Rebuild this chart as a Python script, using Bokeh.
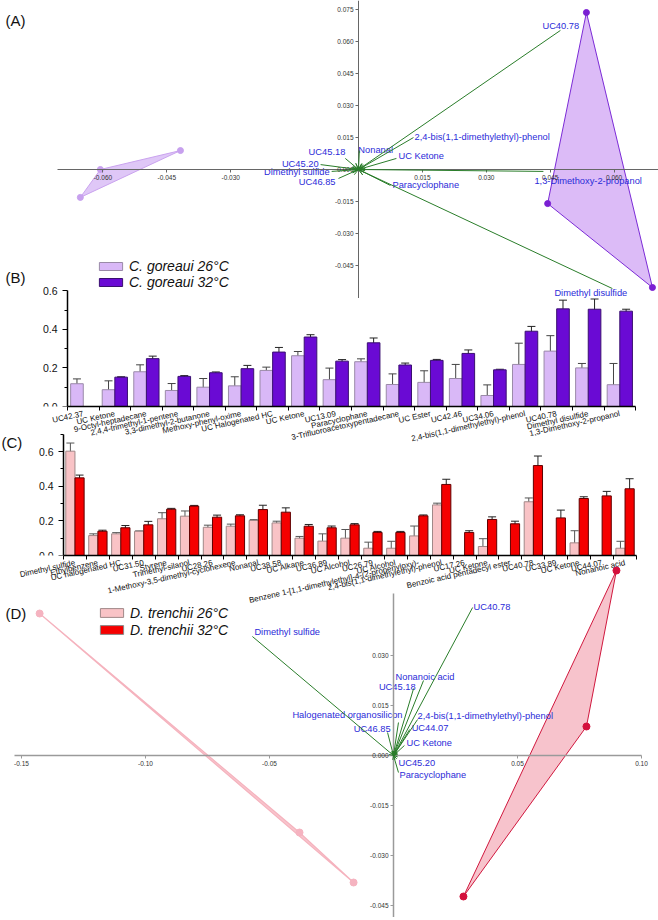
from bokeh.plotting import figure
from bokeh.layouts import column
from bokeh.models import (ColumnDataSource, FixedTicker, NumeralTickFormatter, Arrow, OpenHead,
                          Whisker, TeeHead, Legend, LegendItem, Label)
from bokeh.core.properties import value
from bokeh.embed import file_html
from bokeh.resources import INLINE

FONT = "Liberation Sans"

# ---------------- Panel A: PCA biplot, C. goreaui ----------------
a_x_ticks = [-0.060, -0.045, -0.030, 0.015, 0.030, 0.045, 0.060]
a_y_ticks = [0.075, 0.060, 0.045, 0.030, 0.015, 0.000, -0.015, -0.030, -0.045]
a_g26_x = [-0.0653, -0.0606, -0.0418]
a_g26_y = [-0.0131, 0.0000, 0.0089]
a_g32_x = [0.0535, 0.0444, 0.0690]
a_g32_y = [0.0737, -0.0160, -0.0554]
a_load_names = ["UC40.78", "2,4-bis(1,1-dimethylethyl)-phenol", "Nonanal", "UC Ketone", "UC45.18",
                "UC45.20", "Dimethyl sulfide", "UC46.85", "Paracyclophane",
                "1,3-Dimethoxy-2-propanol", "Dimethyl disulfide"]
a_load_x = [0.0474, 0.0129, 0.0002, 0.0089, -0.0031, -0.0089, -0.0063, -0.0047, 0.0075, 0.0434, 0.0596]
a_load_y = [0.0653, 0.0150, 0.0089, 0.0052, 0.0052, 0.0023, -0.0009, -0.0042, -0.0075, -0.0009, -0.0559]

# ---------------- Panel B: bar chart, C. goreaui ----------------
b_names = ["UC42.37", "UC Ketone", "9-Octyl-heptadecane", "2,4,4-trimethyl-1-pentene",
           "3,3-dimethyl-2-butanone", "Methoxy-phenyl-oxime", "UC Halogenated HC", "UC Ketone",
           "UC13.09", "Paracyclophane", "3-Trifluoroacetoxypentadecane", "UC Ester", "UC42.46",
           "UC34.06", "2,4-bis(1,1-dimethylethyl)-phenol", "UC40.78", "Dimethyl disulfide",
           "1,3-Dimethoxy-2-propanol"]
b26 = [0.118, 0.087, 0.180, 0.083, 0.100, 0.107, 0.187, 0.263, 0.139, 0.232, 0.114, 0.125,
       0.145, 0.057, 0.218, 0.287, 0.200, 0.113]
b26_err = [0.025, 0.046, 0.036, 0.036, 0.045, 0.047, 0.017, 0.022, 0.060, 0.015, 0.055, 0.060,
           0.073, 0.055, 0.110, 0.080, 0.023, 0.110]
b32 = [None, 0.152, 0.248, 0.156, 0.175, 0.196, 0.282, 0.360, 0.235, 0.330, 0.215, 0.239,
       0.275, 0.190, 0.390, 0.506, 0.504, 0.494]
b32_err = [None, 0.002, 0.013, 0.004, 0.004, 0.017, 0.024, 0.012, 0.008, 0.025, 0.010, 0.005,
           0.018, 0.003, 0.025, 0.045, 0.053, 0.010]
b_y_ticks = [0.0, 0.2, 0.4, 0.6]
b_y_minor = [0.1, 0.3, 0.5]

# ---------------- Panel C: bar chart, D. trenchii ----------------
c_names = ["Dimethyl sulfide", "Ethylbenzene", "UC halogenated HC", "UC31.50", "Styrene",
           "Trimethyl-silanol", "UC28.26", "1-Methoxy-3,5-dimethyl-cyclohexene", "Nonanal",
           "UC38.58", "UC Alkane", "UC36.89", "UC Alcohol", "UC26.79", "UC Alcohol",
           "Benzene 1-[1,1-dimethylethyl]-4-(2-propenyloxy)-",
           "2,4-bis(1,1-dimethylethyl)-phenol", "UC17.26", "UC Ketone",
           "Benzoic acid pentadecyl ester", "UC40.78", "UC33.89", "UC Ketone", "UC44.07",
           "Nonanoic acid"]
c26 = [0.602, 0.115, 0.125, 0.140, 0.212, 0.227, 0.163, 0.169, 0.202, 0.188, 0.100, 0.083,
       0.100, 0.042, 0.042, 0.113, 0.292, None, 0.052, None, 0.310, None, 0.073, None, 0.042]
c26_err = [0.047, 0.010, 0.007, 0.002, 0.035, 0.030, 0.012, 0.012, 0.005, 0.010, 0.010, 0.042,
           0.050, 0.035, 0.040, 0.057, 0.010, None, 0.045, None, 0.022, None, 0.070, None, 0.040]
c32 = [0.448, 0.140, 0.160, 0.177, 0.267, 0.285, 0.221, 0.229, 0.265, 0.250, 0.169, 0.160,
       0.177, 0.133, 0.133, 0.229, 0.410, 0.133, 0.208, 0.183, 0.519, 0.217, 0.329, 0.344, 0.385]
c32_err = [0.016, 0.006, 0.013, 0.020, 0.005, 0.004, 0.012, 0.006, 0.025, 0.025, 0.010, 0.010,
           0.007, 0.006, 0.006, 0.005, 0.030, 0.010, 0.015, 0.015, 0.055, 0.045, 0.010, 0.026, 0.058]
c_y_ticks = [0.0, 0.2, 0.4, 0.6]
c_y_minor = [0.1, 0.3, 0.5, 0.7]

# ---------------- Panel D: PCA biplot, D. trenchii ----------------
d_x_ticks = [-0.15, -0.10, -0.05, 0.05, 0.10]
d_y_ticks = [0.030, 0.015, 0.000, -0.015, -0.030, -0.045]
d_t26_x = [-0.1427, -0.0379, -0.0161]
d_t26_y = [0.0426, -0.0231, -0.0381]
d_t32_x = [0.0899, 0.0778, 0.0282]
d_t32_y = [0.0555, 0.0087, -0.0423]
d_load_names = ["Dimethyl sulfide", "Halogenated organosilicon", "UC46.85", "UC45.18",
                "Nonanoic acid", "UC40.78", "2,4-bis(1,1-dimethylethyl)-phenol", "UC44.07",
                "UC Ketone", "UC45.20", "Paracyclophane"]
d_load_x = [-0.0569, 0.0020, -0.0024, 0.0081, 0.0121, 0.0319, 0.0097, 0.0065, 0.0044, 0.0012, 0.0020]
d_load_y = [0.0357, 0.0099, 0.0069, 0.0201, 0.0225, 0.0444, 0.0108, 0.0078, 0.0030, -0.0009, -0.0051]

# ---------------- layout / style parameters ----------------
a_lab_dx = [-18, 1, -1, 2, 0, -2, -2, -3, 2, -9, -58]
a_lab_dy = [-4, -1, -1, -2, -6, -1, 1, 4, 0, 10, 4]
a_lab_align = ["left", "left", "left", "left", "right", "right", "right", "right", "left", "left", "left"]
d_lab_dx = [2, 4, 3, 2, -28, 1, 0, 2, 2, 2, 1]
d_lab_dy = [-5, -8, -4, -2, -4, -1, -4, -2, -3, 4, 2]
d_lab_align = ["left", "right", "right", "right", "left", "left", "left", "left", "left", "left", "left"]

GREEN = "#2a7d2a"
BLUE = "#2b2bd8"
PURPLE_L = "#d9b8f7"
PURPLE_D = "#6a0ad4"
PINK_L = "#f9c3c6"
RED_D = "#f50000"
ROT = 0.22
W = 658


def base_fig(h, xr, yr, **kw):
    p = figure(width=W, height=h, x_range=xr, y_range=yr, output_backend="svg",
               toolbar_location=None, min_border=0, outline_line_color=None, **kw)
    p.grid.visible = False
    return p


def center_axes(p, xt, yt, xfmt, yfmt, xb, yb, color, lw):
    xa, ya = p.xaxis[0], p.yaxis[0]
    xa.fixed_location = 0
    ya.fixed_location = 0
    xa.ticker = FixedTicker(ticks=xt)
    ya.ticker = FixedTicker(ticks=yt)
    xa.formatter = NumeralTickFormatter(format=xfmt)
    ya.formatter = NumeralTickFormatter(format=yfmt)
    xa.bounds = xb
    ya.bounds = yb
    for ax in (xa, ya):
        ax.axis_line_color = color
        ax.axis_line_width = lw
        ax.major_tick_line_color = color
        ax.major_tick_out = 3
        ax.major_tick_in = 0
        ax.minor_tick_line_color = None
        ax.major_label_text_font = FONT
        ax.major_label_text_font_size = "6.5px"
        ax.major_label_text_color = "#333333"
        ax.major_label_standoff = 2


def add_loadings(p, names, xs, ys, dxs, dys, aligns, size, head):
    n = len(names)
    src = ColumnDataSource(dict(x0=[0.0] * n, y0=[0.0] * n, x1=xs, y1=ys))
    p.add_layout(Arrow(start=OpenHead(size=head, line_color=GREEN, line_width=1), end=None,
                       x_start="x0", y_start="y0", x_end="x1", y_end="y1", source=src,
                       line_color=GREEN, line_width=1))
    for al in ("left", "right"):
        idx = [i for i in range(n) if aligns[i] == al]
        s = ColumnDataSource(dict(x=[xs[i] for i in idx], y=[ys[i] for i in idx],
                                  t=[names[i] for i in idx], dx=[dxs[i] for i in idx],
                                  dy=[dys[i] for i in idx]))
        p.text(x="x", y="y", text="t", x_offset="dx", y_offset="dy", source=s, text_align=al,
               text_baseline="middle", text_font=value(FONT), text_font_size=size,
               text_color=BLUE)


def panel_label(p, txt, x, y):
    p.add_layout(Label(x=x, y=y, x_units="screen", y_units="screen", text=txt,
                       text_font=FONT, text_font_size="15px", text_baseline="middle",
                       text_color="#111111"))


def bar_source(vals, errs, offset):
    idx = [i for i in range(len(vals)) if vals[i] is not None]
    return ColumnDataSource(dict(x=[i + offset for i in idx], top=[vals[i] for i in idx],
                                 up=[vals[i] + errs[i] for i in idx],
                                 lo=[vals[i] - errs[i] for i in idx]))


def bars(p, src, fill, line, err_color, width):
    r = p.vbar(x="x", top="top", bottom=0, width=width, source=src, fill_color=fill,
               line_color=line, line_width=1)
    p.add_layout(Whisker(base="x", upper="up", lower="lo", source=src, line_color=err_color,
                         line_width=1,
                         upper_head=TeeHead(size=8, line_color=err_color, line_width=1),
                         lower_head=TeeHead(size=8, line_color=err_color, line_width=1)))
    return r


def bar_axes(p, names, yt, ymin, ybound):
    n = len(names)
    xa, ya = p.xaxis[0], p.yaxis[0]
    xa.ticker = FixedTicker(ticks=list(range(n)), minor_ticks=[i - 0.5 for i in range(n + 1)])
    xa.major_label_overrides = {i: nm for i, nm in enumerate(names)}
    xa.major_label_orientation = ROT
    xa.major_label_text_font = FONT
    xa.major_label_text_font_size = "8px"
    xa.major_label_text_color = "#111111"
    xa.major_label_standoff = 3
    xa.major_tick_out = 0
    xa.major_tick_in = 0
    xa.minor_tick_out = 4
    xa.minor_tick_in = 0
    xa.bounds = (-0.5, n - 0.5)
    ya.fixed_location = -0.5
    ya.ticker = FixedTicker(ticks=yt, minor_ticks=ymin)
    ya.formatter = NumeralTickFormatter(format="0.0")
    ya.bounds = ybound
    ya.major_tick_out = 5
    ya.major_tick_in = 0
    ya.minor_tick_out = 3
    ya.minor_tick_in = 0
    ya.major_label_text_font = FONT
    ya.major_label_text_font_size = "10.5px"
    ya.major_label_text_color = "#111111"
    for ax in (xa, ya):
        ax.axis_line_width = 1.5
        ax.axis_line_color = "black"
        ax.major_tick_line_color = "black"
        ax.minor_tick_line_color = "black"


def legend(p, labels, renderers, loc, gh, lh):
    p.add_layout(Legend(items=[LegendItem(label=l, renderers=[r]) for l, r in zip(labels, renderers)],
                        location=loc, orientation="vertical", padding=0, spacing=0, margin=0,
                        glyph_width=29, glyph_height=gh, label_height=lh, label_standoff=4,
                        label_text_font=FONT, label_text_font_size="14px",
                        label_text_font_style="italic", label_text_color="#111111",
                        border_line_color=None, background_fill_alpha=0,
                        inactive_fill_alpha=0))


# ---------------- Panel A ----------------
pa = base_fig(298, (-0.08404, 0.07042), (-0.06056, 0.07934))
pa.patch(a_g26_x, a_g26_y, fill_color="#dcc1f6", fill_alpha=0.9, line_color="#caa3ef", line_width=1)
pa.scatter(a_g26_x, a_g26_y, size=6, color="#c7a0ee")
pa.patch(a_g32_x, a_g32_y, fill_color="#d8b4f6", fill_alpha=0.9, line_color="#7b2bd6", line_width=1)
pa.scatter(a_g32_x, a_g32_y, size=6, color="#7a1fd3")
center_axes(pa, a_x_ticks, a_y_ticks, "0.000", "0.000", (-0.0707, 0.0704), (-0.0606, 0.0793),
            "#666666", 1)
add_loadings(pa, a_load_names, a_load_x, a_load_y, a_lab_dx, a_lab_dy, a_lab_align, "9.3px", 6)
panel_label(pa, "(A)", 5, 278)

# ---------------- Panel B ----------------
b_cat_px, b_left_px = 31.56, 67
pb = base_fig(201, (-0.5 - b_left_px / b_cat_px, -0.5 + (W - b_left_px) / b_cat_px), (0, 0.7824),
              min_border_bottom=50, background_fill_alpha=0, border_fill_alpha=0)
pb.margin = (-43, 0, 0, 0)
rb26 = bars(pb, bar_source(b26, b26_err, -0.2), PURPLE_L, "#9a8aa8", "#444444", 0.4)
rb32 = bars(pb, bar_source(b32, b32_err, 0.2), PURPLE_D, "#3a1070", "#222222", 0.4)
bar_axes(pb, b_names, b_y_ticks, b_y_minor, (0, 0.6))
legend(pb, ["C. goreaui 26°C", "C. goreaui 32°C"], [rb26, rb32], (96, 116), 10, 16)
panel_label(pb, "(B)", 5, 129)

# ---------------- Panel C ----------------
c_cat_px, c_left_px = 22.92, 63
pc = base_fig(182, (-0.5 - c_left_px / c_cat_px, -0.5 + (W - c_left_px) / c_cat_px), (0, 0.704),
              min_border_bottom=60, background_fill_alpha=0, border_fill_alpha=0)
pc.margin = (-23, 0, 0, 0)
src_c26 = bar_source(c26, c26_err, -0.2)
src_c32 = bar_source(c32, c32_err, 0.2)
rc26 = bars(pc, src_c26, PINK_L, "#a08888", "#555555", 0.4)
rc32 = bars(pc, src_c32, RED_D, "#600000", "#222222", 0.4)
bar_axes(pc, c_names, c_y_ticks, c_y_minor, (0, 0.7))
panel_label(pc, "(C)", 1, 113)

# ---------------- Panel D ----------------
pd_ = base_fig(352, (-0.15847, 0.10685), (-0.0486, 0.0570), background_fill_alpha=0,
               border_fill_alpha=0)
pd_.margin = (-50, 0, 0, 0)
pd_.patch(d_t26_x, d_t26_y, fill_color="#f7bfc8", fill_alpha=0.9, line_color="#f5b3be", line_width=1.2)
pd_.scatter(d_t26_x, d_t26_y, size=7, color="#f5b3c0")
pd_.patch(d_t32_x, d_t32_y, fill_color="#f6bcc6", fill_alpha=0.9, line_color="#d0183e", line_width=1)
pd_.scatter(d_t32_x, d_t32_y, size=7, color="#d4103c")
center_axes(pd_, d_x_ticks, d_y_ticks, "0.00", "0.000", (-0.153, 0.100), (-0.0486, 0.0486),
            "#9a9a9a", 1.5)
add_loadings(pd_, d_load_names, d_load_x, d_load_y, d_lab_dx, d_lab_dy, d_lab_align, "9.3px", 4)
# legend keys for the D. trenchii bars of panel C (hidden renderers sharing panel C's data)
kd26 = pd_.vbar(x="x", top="top", bottom=0, width=0.4, source=src_c26, fill_color=PINK_L,
                line_color="#a08888", visible=False)
kd32 = pd_.vbar(x="x", top="top", bottom=0, width=0.4, source=src_c32, fill_color=RED_D,
                line_color="#888888", visible=False)
legend(pd_, ["D. trenchii 26°C", "D. trenchii 32°C"], [kd26, kd32], (97, 279), 11, 17)
panel_label(pd_, "(D)", 5, 304)

layout = column(pa, pb, pc, pd_, spacing=0)
open("out.html", "w").write(file_html(layout, INLINE))
